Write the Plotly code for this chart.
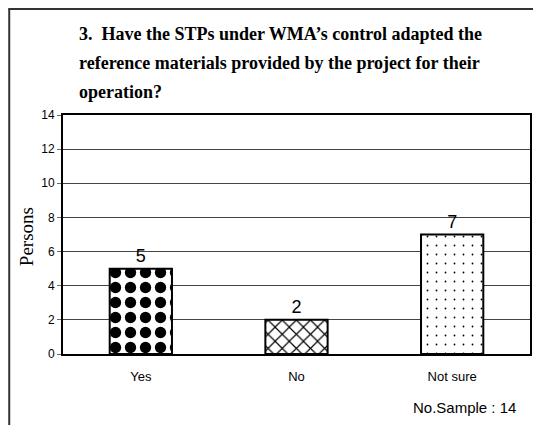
import plotly.graph_objects as go

categories = ["Yes", "No", "Not sure"]
persons = [5, 2, 7]
y_ticks = [0, 2, 4, 6, 8, 10, 12, 14]
title_lines = [
    "3.  Have the STPs under WMA\u2019s control adapted the",
    "reference materials provided by the project for their",
    "operation?",
]
sample_note = "No.Sample : 14"

OFF = 8  # page body margin
W, H = 541 - OFF, 425 - OFF
L, R, T, B = 63 - OFF, W - (532 - OFF), 115 - OFF, H - (354 - OFF)
pw, ph = W - L - R, H - T - B


def px(x):  # screen x -> paper
    return (x - OFF - L) / pw


def py(y):  # screen y -> paper
    return (H - B - (y - OFF)) / ph


fig = go.Figure()
fig.add_trace(go.Bar(
    x=categories,
    y=persons,
    text=[str(v) for v in persons],
    textposition="outside",
    textfont=dict(family="Liberation Sans, Arial", size=18, color="black"),
    cliponaxis=False,
    marker=dict(
        color="white",
        line=dict(color="black", width=2),
        pattern=dict(
            shape=[".", "x", "."],
            fgcolor="black",
            bgcolor="white",
            fgopacity=1,
            fillmode="replace",
            size=[15, 10, 9],
            solidity=[0.45, 0.22, 0.03],
        ),
    ),
    showlegend=False,
))

fig.update_layout(
    width=W, height=H,
    margin=dict(l=L, r=R, t=T, b=B),
    paper_bgcolor="white",
    plot_bgcolor="white",
    bargap=0.6,
    font=dict(family="Liberation Sans, Arial", color="black"),
    xaxis=dict(
        showline=True, linecolor="black", linewidth=2, mirror=True,
        ticks="outside", ticklen=9, tickcolor="rgba(0,0,0,0)",
        tickfont=dict(size=13, color="black"),
        showgrid=False,
    ),
    yaxis=dict(
        range=[0, 14], tickvals=y_ticks,
        showline=True, linecolor="black", linewidth=2, mirror=True,
        ticks="outside", ticklen=4, tickcolor="#666",
        tickfont=dict(size=12, color="black"),
        showgrid=True, gridcolor="#444", gridwidth=1,
        zeroline=False,
    ),
)

annotations = []
for i, line in enumerate(title_lines):
    annotations.append(dict(
        text="<b>" + line + "</b>", xref="paper", yref="paper",
        x=px(77), y=py(34 + 29 * i), xanchor="left", yanchor="middle",
        showarrow=False,
        font=dict(family="Liberation Serif, Times New Roman", size=18, color="black"),
    ))
annotations.append(dict(
    text="Persons", xref="paper", yref="paper", x=px(26), y=py(237),
    xanchor="center", yanchor="middle", textangle=-90, showarrow=False,
    font=dict(family="Liberation Serif, Times New Roman", size=19, color="black"),
))
annotations.append(dict(
    text=sample_note, xref="paper", yref="paper", x=px(520), y=py(407),
    xanchor="right", yanchor="middle", showarrow=False,
    font=dict(family="Liberation Sans, Arial", size=15, color="black"),
))
fig.update_layout(annotations=annotations)

# outer frame (left and top edges)
fig.add_shape(type="line", xref="paper", yref="paper",
              x0=px(9), x1=px(9), y0=py(9), y1=py(440),
              line=dict(color="#333", width=2))
fig.add_shape(type="line", xref="paper", yref="paper",
              x0=px(8), x1=px(560), y0=py(9), y1=py(9),
              line=dict(color="#333", width=2))

fig.write_html("out.html")
